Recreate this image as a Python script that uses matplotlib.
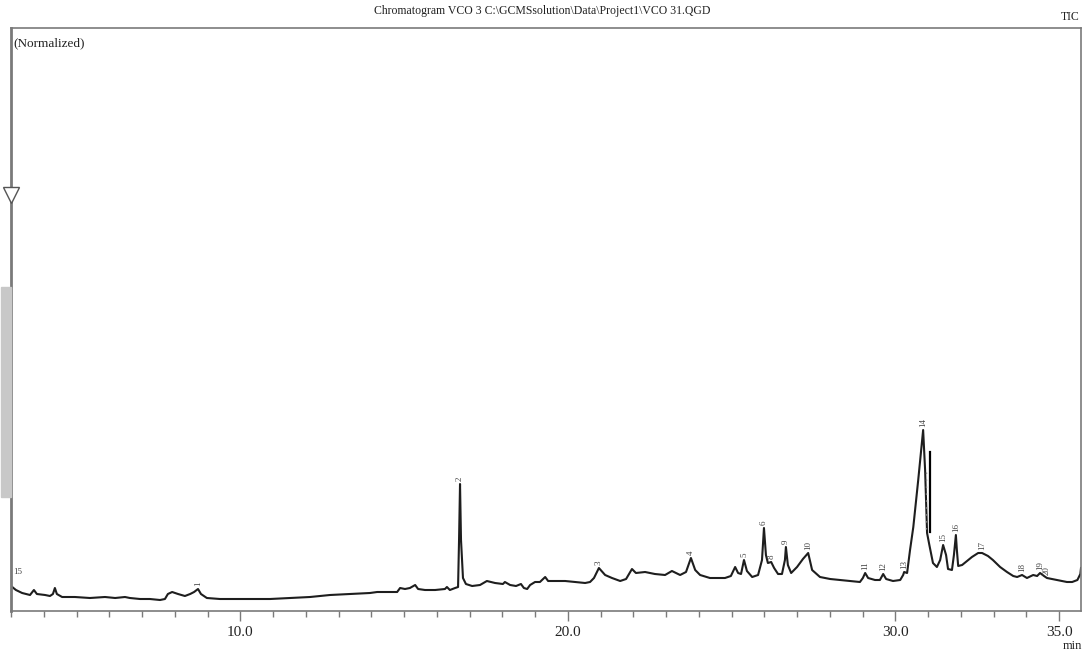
import matplotlib
matplotlib.use("Agg")
import matplotlib.pyplot as plt
import numpy as np

# Retention time (min) and relative intensity of the TIC trace
time_min = [3.00, 3.15, 3.34, 3.58, 3.70, 3.79, 4.04, 4.19, 4.28, 4.34, 4.40, 4.56, 4.95, 5.41,
            5.87, 6.18, 6.48, 6.63, 6.94, 7.24, 7.55, 7.70, 7.79, 7.92, 8.10, 8.31, 8.47, 8.59,
            8.71, 8.80, 8.98, 9.38, 9.99, 10.60, 10.91, 11.52, 12.13, 12.74, 13.35, 13.96, 14.18,
            14.57, 14.79, 14.88, 15.03, 15.18, 15.34, 15.43, 15.64, 15.95, 16.25, 16.31, 16.40,
            16.56, 16.65, 16.68, 16.71, 16.74, 16.80, 16.89, 17.08, 17.32, 17.53, 17.78, 18.02,
            18.08, 18.24, 18.42, 18.57, 18.66, 18.76, 18.85, 19.00, 19.15, 19.31, 19.40, 19.61,
            19.92, 20.22, 20.53, 20.68, 20.80, 20.95, 21.14, 21.35, 21.60, 21.78, 21.96, 22.08,
            22.36, 22.66, 22.97, 23.18, 23.43, 23.61, 23.76, 23.89, 24.04, 24.34, 24.80, 24.98,
            25.11, 25.20, 25.29, 25.38, 25.47, 25.63, 25.81, 25.93, 25.99, 26.05, 26.11, 26.21,
            26.30, 26.42, 26.54, 26.63, 26.66, 26.72, 26.82, 27.00, 27.18, 27.34, 27.46, 27.70,
            28.01, 28.31, 28.62, 28.92, 29.01, 29.08, 29.17, 29.38, 29.53, 29.63, 29.72, 29.93,
            30.15, 30.24, 30.27, 30.36, 30.45, 30.55, 30.70, 30.79, 30.85, 30.91, 30.97, 31.04,
            31.15, 31.27, 31.37, 31.46, 31.55, 31.61, 31.73, 31.79, 31.85, 31.88, 31.92, 32.04,
            32.19, 32.34, 32.53, 32.65, 32.83, 32.98, 33.20, 33.41, 33.60, 33.72, 33.87, 34.02,
            34.21, 34.33, 34.42, 34.54, 34.63, 34.94, 35.24, 35.40, 35.56, 35.65, 35.67]
intensity = [25, 21, 18, 16, 21, 17, 16, 15, 17, 23, 17, 14, 14, 13,
             14, 13, 14, 13, 12, 12, 11, 12, 17, 19, 17, 15, 17, 19,
             22, 17, 13, 12, 12, 12, 12, 13, 14, 16, 17, 18, 19,
             19, 19, 23, 22, 23, 26, 22, 21, 21, 22, 24, 21,
             23, 24, 71, 127, 71, 33, 27, 25, 26, 30, 28, 27,
             29, 26, 25, 27, 23, 22, 26, 29, 29, 34, 30, 30,
             30, 29, 28, 29, 33, 43, 36, 33, 30, 32, 42, 38,
             39, 37, 36, 40, 36, 39, 53, 41, 36, 33, 33, 35,
             44, 38, 37, 51, 40, 34, 36, 51, 83, 56, 48, 49,
             43, 37, 37, 51, 64, 46, 38, 44, 52, 58, 41, 34,
             32, 31, 30, 29, 33, 38, 33, 31, 31, 37, 32, 30,
             31, 36, 39, 38, 61, 84, 131, 161, 181, 141, 78, 66,
             48, 44, 51, 66, 56, 42, 41, 56, 76, 61, 45, 46,
             50, 54, 58, 58, 55, 51, 44, 39, 35, 34, 36, 33,
             36, 35, 38, 35, 33, 31, 29, 29, 31, 37, 43]

# Peak labels: number, retention time, apex intensity
peak_ids = ["1", "2", "3", "4", "5", "6", "8", "9", "10", "11", "12", "13", "14",
            "15", "16", "17", "18", "19", "20"]
peak_times = [8.71, 16.71, 20.95, 23.76, 25.38, 25.99, 26.21, 26.66, 27.34, 29.08,
              29.63, 30.27, 30.85, 31.46, 31.85, 32.65, 33.87, 34.42, 34.62]
peak_heights = [22, 127, 43, 53, 51, 83, 49, 64, 58, 38, 37, 39, 181, 66, 76, 58, 36, 38, 33]

major_ticks = [10.0, 20.0, 30.0, 35.0]
minor_ticks = list(range(3, 36))

W, H = 1084, 652
fig = plt.figure(figsize=(W / 100, H / 100), dpi=100)
ax = fig.add_axes([11 / W, 1 - 611 / H, (1081 - 11) / W, (611 - 28) / H])
ax.set_xlim(3.0, 35.67)
ax.set_ylim(0, 583)

serif = ["Liberation Serif", "DejaVu Serif"]
spine_c = "#7a7a7a"

ax.plot(time_min, intensity, color="#1e1e1e", lw=1.5, solid_joinstyle="round")

for pid, pt, ph in zip(peak_ids, peak_times, peak_heights):
    ax.text(pt, ph + 3, pid, rotation=90, ha="center", va="bottom", fontsize=6.5,
            family=serif, color="#444444")

# integration markers near the big peak
ax.plot([31.06, 31.06], [79, 159], color="black", lw=1.6)
ax.plot([30.94, 30.94], [82, 140], color="#888888", lw=1.0, ls=(0, (1, 4)))

for s in ax.spines.values():
    s.set_color(spine_c)
    s.set_linewidth(1.2)
ax.spines["left"].set_linewidth(2.0)

ax.set_yticks([])
ax.set_xticks(major_ticks)
ax.set_xticklabels(["10.0", "20.0", "30.0", "35.0"], family=serif, fontsize=11, color="#222222")
ax.set_xticks(minor_ticks, minor=True)
ax.tick_params(axis="x", which="major", direction="out", length=7, width=1, color=spine_c, pad=4)
ax.tick_params(axis="x", which="minor", direction="out", length=4, width=1, color=spine_c)

# left decorations: grey bar and triangle
fig.patches.append(plt.Rectangle((1 / W, 1 - 497 / H), 10 / W, 210 / H,
                                 transform=fig.transFigure, color="#c8c8c8", zorder=0))
fig.add_artist(plt.Line2D([11 / W], [1 - 195 / H], marker="v", markersize=11,
                          markerfacecolor="white", markeredgecolor="#555555",
                          markeredgewidth=1.0, transform=fig.transFigure))

fig.text(0.5, 1 - 11 / H, r"Chromatogram VCO 3 C:\GCMSsolution\Data\Project1\VCO 31.QGD",
         ha="center", va="center", family=serif, fontsize=8.5, color="#222222")
fig.text(1080 / W, 1 - 17 / H, "TIC", ha="right", va="center", family=serif, fontsize=8.5,
         color="#222222")
fig.text(13 / W, 1 - 43 / H, "(Normalized)", ha="left", va="center", family=serif,
         fontsize=9.5, color="#222222")
fig.text(13 / W, 1 - 572 / H, "15", ha="left", va="center", family=serif, fontsize=6.5,
         color="#444444")
fig.text(1082 / W, 1 - 646 / H, "min", ha="right", va="center", family=serif, fontsize=9,
         color="#222222")

fig.savefig("out.png", dpi=100)
